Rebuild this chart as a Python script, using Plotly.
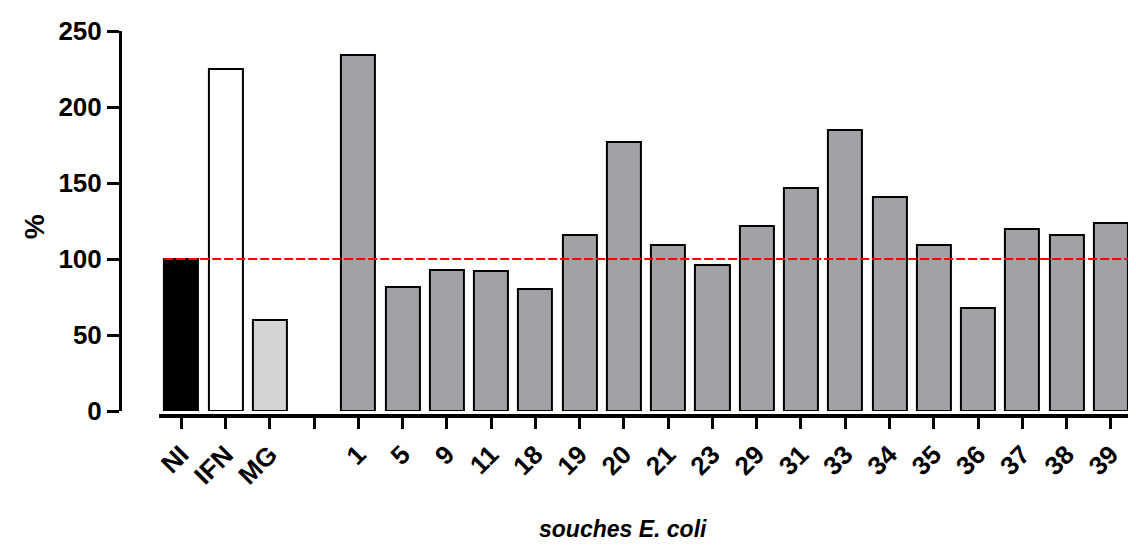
import plotly.graph_objects as go

# ---- data ----
labels = ["NI", "IFN", "MG", "", "1", "5", "9", "11", "18", "19", "20", "21",
          "23", "29", "31", "33", "34", "35", "36", "37", "38", "39"]
values = [100, 225, 60, None, 234, 81.5, 93, 92, 80.5, 116, 177, 109.5,
          96, 121.5, 146.5, 185, 141, 109.5, 67.5, 120, 116, 124]
colors = ["#000000", "#ffffff", "#d4d4d4", "#ffffff"] + ["#a2a1a6"] * 18
reference_level = 100
y_ticks = [0, 50, 100, 150, 200, 250]

x_pos = list(range(len(labels)))
bar_w = 0.77
x_range = [-0.504, 21.75]

FONT = "Liberation Sans, Arial, sans-serif"

fig = go.Figure()
fig.add_trace(go.Bar(
    x=x_pos, y=values, width=bar_w,
    marker=dict(color=colors, line=dict(color="#000000", width=2)),
    showlegend=False, hoverinfo="x+y",
))

fig.add_shape(type="line", xref="x", yref="y",
              x0=-bar_w / 2, x1=x_range[1], y0=reference_level, y1=reference_level,
              line=dict(color="#ff0000", width=2, dash="9px,3px"))

fig.update_layout(
    width=1136, height=545,
    margin=dict(l=112, r=0, t=23, b=137),
    plot_bgcolor="white", paper_bgcolor="white",
    font=dict(family=FONT, color="black"),
    bargap=0,
    xaxis=dict(
        domain=[0.038, 1], range=x_range,
        tickvals=x_pos, ticktext=["<b>%s</b>" % t for t in labels],
        tickangle=-45, tickfont=dict(size=26, family=FONT),
        showline=True, linecolor="black", linewidth=4,
        ticks="outside", ticklen=11, tickwidth=3, tickcolor="black",
        showgrid=False, zeroline=False,
        anchor="free", position=0,
    ),
    yaxis=dict(
        domain=[0.013, 1], range=[0, 250],
        tickvals=y_ticks, ticktext=["<b>%d</b>" % v for v in y_ticks],
        tickfont=dict(size=26, family=FONT),
        showline=True, linecolor="black", linewidth=3,
        ticks="outside", ticklen=12, tickwidth=3, tickcolor="black",
        showgrid=False, zeroline=False,
        anchor="free", position=0,
    ),
    annotations=[
        dict(text="<b>%</b>", xref="paper", yref="paper", x=(26 - 112) / 1024, y=0.49,
             textangle=-90, showarrow=False, font=dict(size=28, family=FONT),
             xanchor="center", yanchor="middle"),
        dict(text="<b><i>souches E. coli</i></b>", xref="paper", yref="paper",
             x=(615 - 112) / 1024, y=(408 - 521) / 385, showarrow=False,
             font=dict(size=23, family=FONT), xanchor="center", yanchor="middle"),
    ],
)

fig.write_html("out.html")
